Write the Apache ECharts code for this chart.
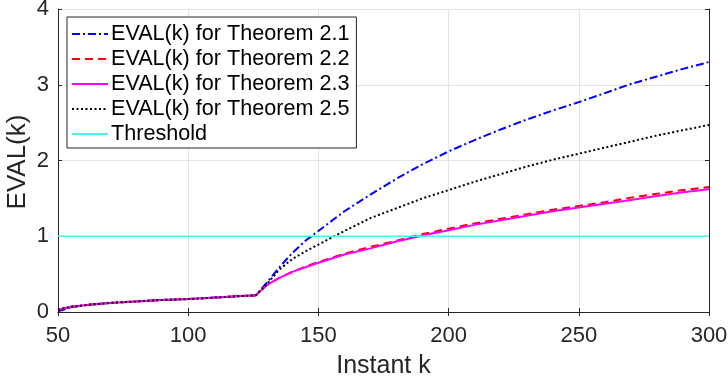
<!DOCTYPE html>
<html>
<head>
<meta charset="utf-8">
<script src="https://cdn.jsdelivr.net/npm/echarts@6/dist/echarts.min.js"></script>
<style>
  html, body { margin: 0; padding: 0; background: #fff; }
  #chart { width: 728px; height: 380px; }
</style>
</head>
<body>
<div id="chart"></div>
<script>
// instants k
const kValues = [50, 55, 60, 70, 80, 90, 100, 110, 120, 126, 130, 135, 140, 145, 150,
  160, 170, 180, 190, 200, 210, 220, 230, 240, 250, 260, 270, 280, 290, 300];

const evalT21 = [0.01, 0.06, 0.09, 0.12, 0.14, 0.16, 0.17, 0.19, 0.21, 0.22, 0.38, 0.59, 0.78, 0.94, 1.07,
  1.33, 1.55, 1.76, 1.95, 2.12, 2.27, 2.41, 2.54, 2.66, 2.77, 2.89, 3.01, 3.11, 3.21, 3.30];
const evalT22 = [0.03, 0.07, 0.09, 0.12, 0.14, 0.16, 0.17, 0.19, 0.21, 0.22, 0.35, 0.45, 0.53, 0.60, 0.66,
  0.77, 0.86, 0.94, 1.03, 1.10, 1.17, 1.23, 1.29, 1.35, 1.40, 1.45, 1.51, 1.56, 1.61, 1.65];
const evalT23 = [0.03, 0.07, 0.09, 0.12, 0.14, 0.16, 0.17, 0.19, 0.21, 0.22, 0.35, 0.45, 0.53, 0.59, 0.65,
  0.76, 0.84, 0.93, 1.01, 1.08, 1.15, 1.21, 1.27, 1.33, 1.38, 1.43, 1.48, 1.53, 1.58, 1.62];
const evalT25 = [0.03, 0.07, 0.09, 0.12, 0.14, 0.16, 0.17, 0.19, 0.21, 0.22, 0.36, 0.56, 0.70, 0.80, 0.89,
  1.07, 1.24, 1.37, 1.50, 1.61, 1.72, 1.82, 1.92, 2.01, 2.09, 2.17, 2.25, 2.33, 2.40, 2.47];
const thresholdK = [50, 300];
const thresholdVal = [1, 1];

const xTicks = [50, 100, 150, 200, 250, 300];
const yTicks = [0, 1, 2, 3, 4];

const zip = (xs, ys) => xs.map((x, i) => [x, ys[i]]);
const font = "Liberation Sans, Arial, Helvetica, sans-serif";
const axisColor = "#262626";

const chart = echarts.init(document.getElementById("chart"));

function line(name, data, color, type, width) {
  return {
    name, type: "line", data, symbol: "none", animation: false,
    lineStyle: { color, type, width },
    itemStyle: { color },
    xAxisIndex: 0, yAxisIndex: 0
  };
}

const boxAxis = {
  axisLine: { show: true, lineStyle: { color: axisColor, width: 1 } },
  axisTick: { show: true, inside: true, length: 4, lineStyle: { color: axisColor } },
  axisLabel: { show: false },
  splitLine: { show: false }
};

chart.setOption({
  animation: false,
  backgroundColor: "#fff",
  grid: { left: 58, right: 19, top: 9, bottom: 68, containLabel: false, outerBoundsMode: "none" },
  // y axis title, placed by hand (axis name kept getting pushed to the edge)
  graphic: [{
    type: "text", x: 18, y: 162, rotation: Math.PI / 2,
    style: {
      text: "EVAL(k)", fill: axisColor, font: "26px " + font,
      textAlign: "center", textVerticalAlign: "middle"
    }
  }],
  xAxis: [
    {
      type: "value", min: xTicks[0], max: xTicks[xTicks.length - 1], interval: 50,
      name: "Instant k", nameLocation: "middle", nameGap: 42,
      nameTextStyle: { fontFamily: font, fontSize: 25, color: axisColor },
      axisLine: { lineStyle: { color: axisColor } },
      axisTick: { inside: true, length: 4, lineStyle: { color: axisColor } },
      axisLabel: { fontFamily: font, fontSize: 22, color: axisColor, margin: 13 },
      splitLine: { show: true, lineStyle: { color: "#e3e3e3", width: 1 } }
    },
    Object.assign({ type: "value", position: "top", min: 50, max: 300, interval: 50 }, boxAxis)
  ],
  yAxis: [
    {
      type: "value", min: yTicks[0], max: yTicks[yTicks.length - 1], interval: 1,
      axisLine: { show: true, lineStyle: { color: axisColor } },
      axisTick: { show: true, inside: true, length: 4, lineStyle: { color: axisColor } },
      axisLabel: { fontFamily: font, fontSize: 22, color: axisColor, margin: 9 },
      splitLine: { show: true, lineStyle: { color: "#e3e3e3", width: 1 } }
    },
    Object.assign({ type: "value", position: "right", min: 0, max: 4, interval: 1 }, boxAxis)
  ],
  legend: {
    orient: "vertical", left: 67, top: 17,
    backgroundColor: "#fff", borderColor: axisColor, borderWidth: 1, borderRadius: 0,
    padding: [6, 7, 3, 4], itemGap: 3, itemWidth: 36, itemHeight: 14,
    itemStyle: { opacity: 0 },
    textStyle: { fontFamily: font, fontSize: 21.6, lineHeight: 20, color: "#000", padding: [0, 0, 0, -2] },
    data: ["EVAL(k) for Theorem 2.1", "EVAL(k) for Theorem 2.2", "EVAL(k) for Theorem 2.3",
      "EVAL(k) for Theorem 2.5", "Threshold"]
  },
  series: [
    line("EVAL(k) for Theorem 2.1", zip(kValues, evalT21), "#0000ff", [8, 3, 2, 3], 2),
    line("EVAL(k) for Theorem 2.2", zip(kValues, evalT22), "#ff0000", [8, 5], 2),
    line("EVAL(k) for Theorem 2.3", zip(kValues, evalT23), "#ff00ff", "solid", 2),
    line("EVAL(k) for Theorem 2.5", zip(kValues, evalT25), "#000000", [2, 2.5], 2),
    line("Threshold", zip(thresholdK, thresholdVal), "#4df0f0", "solid", 1.5)
  ]
});
</script>
</body>
</html>
